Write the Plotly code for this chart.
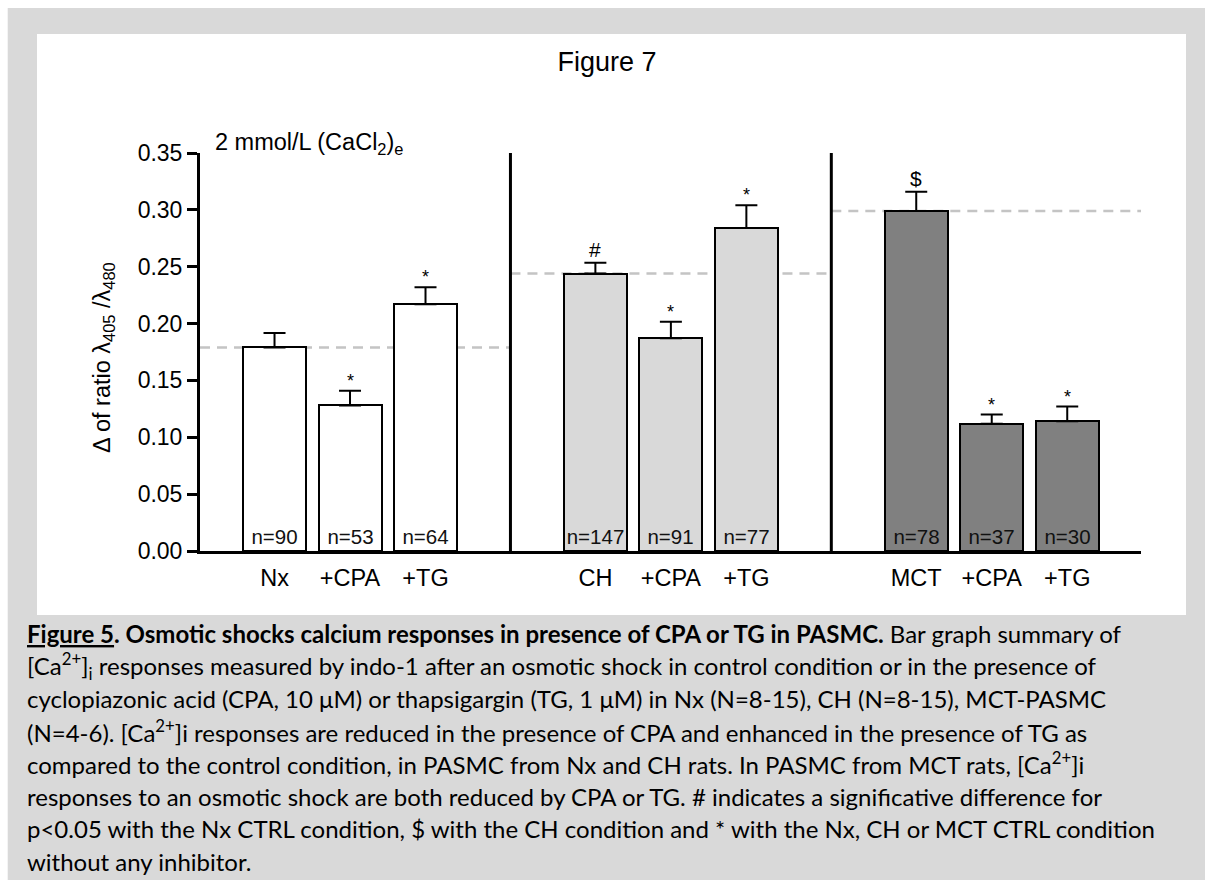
import plotly.graph_objects as go

# ---------------- data ----------------
categories = ["Nx", "+CPA", "+TG", "CH", "+CPA", "+TG", "MCT", "+CPA", "+TG"]
group_of = [0, 0, 0, 1, 1, 1, 2, 2, 2]
values = [0.179, 0.128, 0.217, 0.244, 0.187, 0.284, 0.299, 0.112, 0.114]
errors = [0.0127, 0.013, 0.015, 0.0094, 0.0147, 0.020, 0.017, 0.008, 0.013]
n_labels = ["n=90", "n=53", "n=64", "n=147", "n=91", "n=77", "n=78", "n=37", "n=30"]
signif = ["", "*", "*", "#", "*", "*", "$", "*", "*"]
y_ticks = [0.00, 0.05, 0.10, 0.15, 0.20, 0.25, 0.30, 0.35]
group_colors = ["#ffffff", "#d9d9d9", "#808080"]

caption_lines = [
    "<b><u>Figure 5</u>. Osmotic shocks calcium responses in presence of CPA or TG in PASMC.</b> Bar graph summary of",
    "[Ca<sup>2+</sup>]<sub>i</sub> responses measured by indo-1 after an osmotic shock in control condition or in the presence of",
    "cyclopiazonic acid (CPA, 10 μM) or thapsigargin (TG, 1 μM) in Nx (N=8-15), CH (N=8-15), MCT-PASMC",
    "(N=4-6). [Ca<sup>2+</sup>]i responses are reduced in the presence of CPA and enhanced in the presence of TG as",
    "compared to the control condition, in PASMC from Nx and CH rats. In PASMC from MCT rats, [Ca<sup>2+</sup>]i",
    "responses to an osmotic shock are both reduced by CPA or TG. # indicates a significative difference for",
    "p&lt;0.05 with the Nx CTRL condition, $ with the CH condition and * with the Nx, CH or MCT CTRL condition",
    "without any inhibitor.",
]

# ---------------- layout constants ----------------
W, H = 1205, 881
PL, PR, PT, PB = 200, 1141, 153, 551          # plot area in pixels
GROUP_GAP = 4.25
BAR_W = 0.834
X_RANGE = [-0.987, 11.477]
Y_RANGE = [0, 0.35]
AX_FONT = "Liberation Sans, Arial, sans-serif"


def px_x(px):
    return (px - PL) / (PR - PL)


def px_y(py):
    return (PB - py) / (PB - PT)


positions = []
for k, g in enumerate(group_of):
    positions.append(g * GROUP_GAP + (k - 3 * g))
bar_colors = [group_colors[g] for g in group_of]

fig = go.Figure()
fig.add_trace(go.Bar(
    x=positions, y=values, width=BAR_W,
    marker=dict(color=bar_colors, line=dict(color="black", width=2)),
    error_y=dict(type="data", symmetric=False, array=errors,
                 arrayminus=[0] * len(errors), color="black",
                 thickness=2, width=11),
    text=n_labels, textposition="inside", insidetextanchor="start",
    textangle=0, constraintext="none",
    insidetextfont=dict(family=AX_FONT, size=20.5, color="#111"),
    showlegend=False, hoverinfo="skip",
))

shapes = []
# page backgrounds
shapes.append(dict(type="rect", xref="paper", yref="paper", layer="below",
                   x0=px_x(7.7), x1=px_x(1210), y0=px_y(880), y1=px_y(8),
                   fillcolor="#d9d9d9", line=dict(width=0)))
shapes.append(dict(type="rect", xref="paper", yref="paper", layer="below",
                   x0=px_x(37), x1=px_x(1186), y0=px_y(615), y1=px_y(34),
                   fillcolor="#ffffff", line=dict(width=0)))

# group boundaries (separators) from bar positions
first_idx = [group_of.index(g) for g in range(3)]
last_idx = [len(group_of) - 1 - group_of[::-1].index(g) for g in range(3)]
seps = [(positions[last_idx[g]] + positions[first_idx[g + 1]]) / 2 for g in range(2)]
bounds = [X_RANGE[0]] + seps + [X_RANGE[1]]

# dashed control reference lines
for g in range(3):
    ctrl = values[first_idx[g]]
    shapes.append(dict(type="line", xref="x", yref="y", layer="below",
                       x0=bounds[g], x1=bounds[g + 1], y0=ctrl, y1=ctrl,
                       line=dict(color="#c4c4c4", width=2.5, dash="10px,7px")))
# vertical separators
for s in seps:
    shapes.append(dict(type="line", xref="x", yref="y", x0=s, x1=s,
                       y0=0, y1=0.3527, line=dict(color="black", width=3)))

annotations = []
# significance marks
for p, v, e, s in zip(positions, values, errors, signif):
    if not s:
        continue
    if s == "*":
        annotations.append(dict(x=p, y=v + e, xref="x", yref="y", text=s,
                                showarrow=False, yanchor="bottom", yshift=-2,
                                font=dict(family=AX_FONT, size=18, color="black")))
    else:
        annotations.append(dict(x=p, y=v + e, xref="x", yref="y", text=s,
                                showarrow=False, yanchor="bottom", yshift=0,
                                font=dict(family=AX_FONT, size=21, color="black")))

# condition label
annotations.append(dict(x=px_x(213), y=px_y(143), xref="paper", yref="paper",
                        text="2 mmol/L (CaCl<sub>2</sub>)<sub>e</sub>",
                        showarrow=False, xanchor="left", yanchor="middle",
                        font=dict(family=AX_FONT, size=23.5, color="black")))
# y-axis title
annotations.append(dict(x=px_x(103), y=px_y(358), xref="paper", yref="paper",
                        text="Δ of ratio λ<sub>405</sub> /λ<sub>480</sub>",
                        textangle=-90, showarrow=False, xanchor="center", yanchor="middle",
                        font=dict(family=AX_FONT, size=23.5, color="black")))
# caption
cap_y = [633, 665.5, 698, 731, 763.5, 796, 828.5, 861]
for line, yy in zip(caption_lines, cap_y):
    annotations.append(dict(x=px_x(25), y=px_y(yy), xref="paper", yref="paper",
                            text=line, showarrow=False, xanchor="left", yanchor="middle",
                            font=dict(family="Lato, sans-serif", size=24, color="black")))

fig.update_layout(
    width=W, height=H,
    margin=dict(l=PL, r=W - PR, t=PT, b=H - PB, pad=0),
    paper_bgcolor="white", plot_bgcolor="rgba(0,0,0,0)",
    title=dict(text="Figure 7", x=607 / W, y=1 - 62 / H, xref="container", yref="container",
               xanchor="center", yanchor="middle",
               font=dict(family=AX_FONT, size=27, color="black")),
    shapes=shapes, annotations=annotations,
    bargap=0,
    xaxis=dict(range=X_RANGE, showgrid=False, zeroline=False, showline=True,
               linecolor="black", linewidth=3, ticks="", tickvals=positions,
               ticktext=categories, ticklabelstandoff=4,
               tickfont=dict(family=AX_FONT, size=23.5, color="black")),
    yaxis=dict(range=Y_RANGE, showgrid=False, zeroline=False, showline=True,
               linecolor="black", linewidth=3, ticks="outside", ticklen=10,
               tickwidth=3, tickcolor="black", tickvals=y_ticks, tickformat=".2f",
               tickfont=dict(family=AX_FONT, size=23, color="black")),
)

# remove the browser's default 8px body margin so the 1205x881 figure fits the window
fig.write_html("out.html",
               config={"displayModeBar": False},
               post_script="document.body.style.margin='0';document.body.style.overflow='hidden';")
